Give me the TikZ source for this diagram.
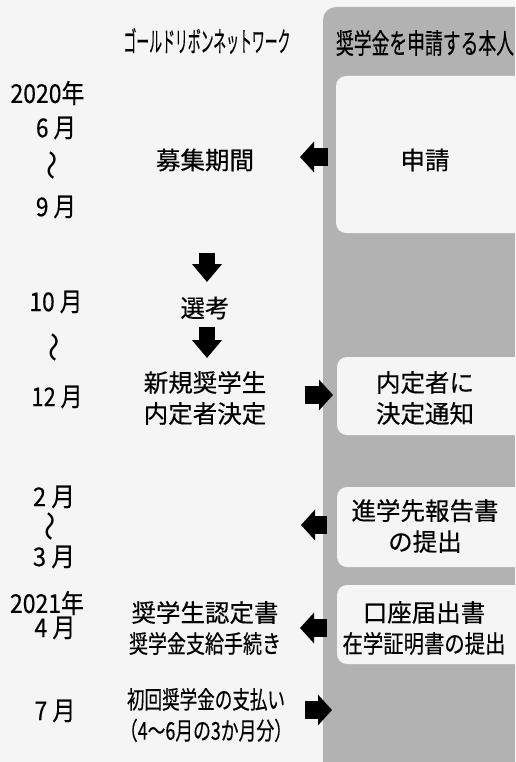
\documentclass[tikz,border=0pt]{standalone}
\usepackage{fontspec}
\usepackage{graphicx}
\newfontfamily\jp[FakeBold=0.4]{Noto Sans CJK JP}
\newfontfamily\jpthin{Noto Sans CJK JP}
\usetikzlibrary{arrows.meta}
\newcommand\fitw[2]{\resizebox{#1}{\height}{#2}}
\begin{document}
\begin{tikzpicture}[x=1pt,y=-1pt,
  txt/.style={font=\jp\fontsize{24.5}{31}\selectfont, inner sep=0pt, align=center, anchor=center},
  mon/.style={font=\jp\fontsize{26}{26}\selectfont, inner sep=0pt, anchor=center},
  hdr/.style={font=\jp\fontsize{28}{28}\selectfont, inner sep=0pt, anchor=center},
  wave/.style={font=\jpthin\fontsize{30}{30}\selectfont, inner sep=0pt, anchor=center},
  harrow/.style={line width=18pt, -{Triangle[length=14pt,width=30pt]}},
  varrow/.style={line width=16pt, -{Triangle[length=18pt,width=29pt]}},
  panel/.style={fill=black!30},
  wbox/.style={fill=black!4, rounded corners=10pt}]
\useasboundingbox (0,0) rectangle (515,762);
\clip (0,0) rectangle (515,762);
\fill[black!4] (0,0) rectangle (515,762);
% right panel
\fill[panel, rounded corners=13pt] (323,7) rectangle (545,790);
\fill[wbox] (336,76) rectangle (545,233);
\fill[wbox] (337,357) rectangle (545,435);
\fill[wbox] (337,487) rectangle (545,567);
\fill[wbox] (337,585) rectangle (545,664);
% headers
\node[hdr] (hl) at (207,41) {\fitw{167pt}{ゴールドリボンネットワーク}};
\node[hdr] (hr) at (425,43) {\fitw{178pt}{奨学金を申請する本人}};
% months
\node[mon] (y20) at (47.5,93) {\fitw{74pt}{2020年}};
\node[mon] (m6) at (56,128) {\fitw{40pt}{6 月}};
\node[wave] (w1) at (56,165) {\rotatebox{90}{〜}};
\node[mon] (m9) at (56,207) {\fitw{40pt}{9 月}};
\node[mon] (m10) at (56,302) {\fitw{53pt}{10 月}};
\node[wave] (w2) at (58,347) {\rotatebox{90}{〜}};
\node[mon] (m12) at (57,397) {\fitw{51pt}{12 月}};
\node[mon] (m2) at (54,497) {\fitw{42pt}{2 月}};
\node[wave] (w3) at (54,526) {\rotatebox{90}{〜}};
\node[mon] (m3) at (54,557) {\fitw{42pt}{3 月}};
\node[mon] (y21) at (47,603) {\fitw{74pt}{2021年}};
\node[mon] (m4) at (55,628) {\fitw{41pt}{4 月}};
\node[mon] (m7) at (55,711) {\fitw{41pt}{7 月}};
% middle column
\node[txt] (boshu) at (205,160) {募集期間};
\node[txt] (senko) at (205,308) {選考};
\node[txt] (naitei) at (205,398) {新規奨学生\\内定者決定};
\node[txt] (nintei) at (205,628) {奨学生認定書\\\fitw{152pt}{奨学金支給手続き}};
\node[txt] (shiharai) at (206,715) {\fitw{158pt}{初回奨学金の支払い}\\\fitw{172pt}{（4～6月の3か月分）}};
% right column
\node[txt] (shinsei) at (425,160) {申請};
\node[txt] (tsuchi) at (425,398) {内定者に\\決定通知};
\node[txt] (hokoku) at (425,526) {進学先報告書\\の提出};
\node[txt] (koza) at (424,628) {口座届出書\\\fitw{163pt}{在学証明書の提出}};
% arrow end points
\coordinate (a1s) at (328,157); \coordinate (a1e) at (300,157);
\coordinate (d1s) at (207,253); \coordinate (d1e) at (207,282);
\coordinate (d2s) at (207,327); \coordinate (d2e) at (207,358);
\coordinate (a2s) at (305,395); \coordinate (a2e) at (333,395);
\coordinate (a3s) at (327,525); \coordinate (a3e) at (301,525);
\coordinate (a4s) at (327,628); \coordinate (a4e) at (300,628);
\coordinate (a5s) at (305,710); \coordinate (a5e) at (332,710);
\draw[harrow] (a1s) -- (a1e);
\draw[varrow] (d1s) -- (d1e);
\draw[varrow] (d2s) -- (d2e);
\draw[harrow] (a2s) -- (a2e);
\draw[harrow] (a3s) -- (a3e);
\draw[harrow] (a4s) -- (a4e);
\draw[harrow] (a5s) -- (a5e);
\end{tikzpicture}
\end{document}
